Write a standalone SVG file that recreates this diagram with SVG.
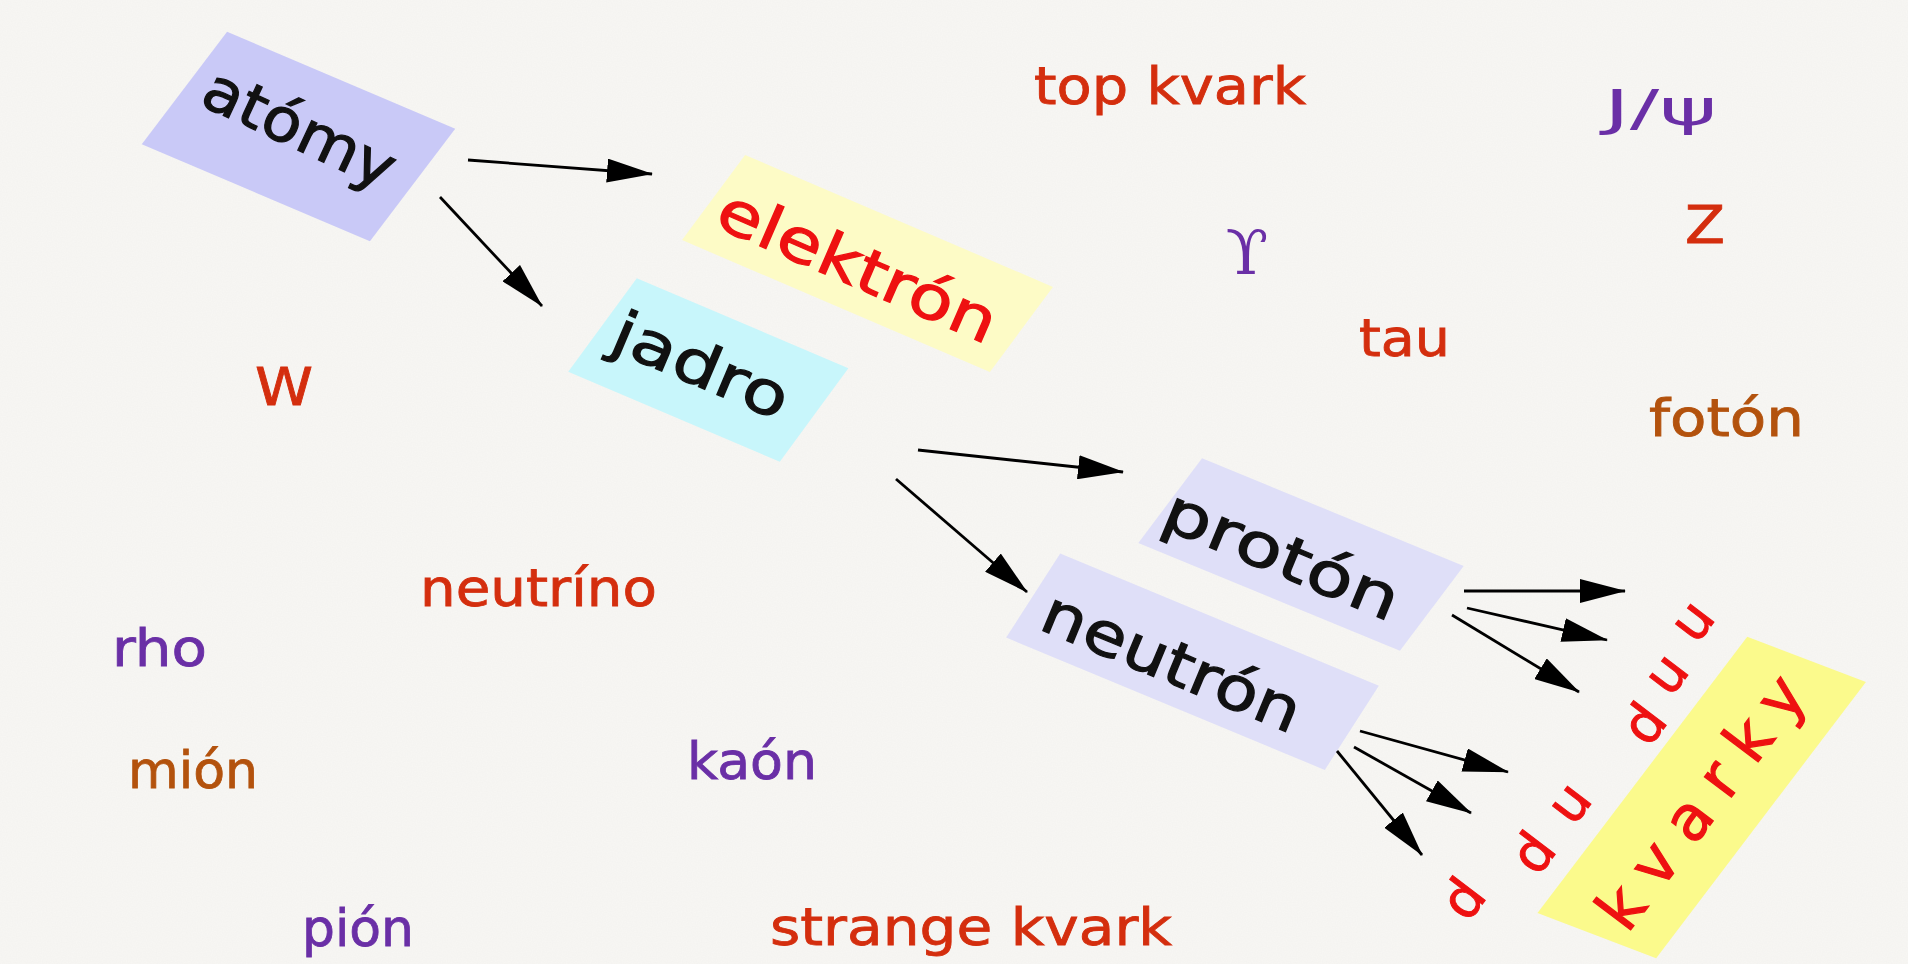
<svg xmlns="http://www.w3.org/2000/svg" width="1908" height="964" viewBox="0 0 1908 964">
<style>
  .lbl { font-family: "DejaVu Sans", "Liberation Sans", sans-serif; stroke-width: 0.8; }
  .box { font-family: "DejaVu Sans", "Liberation Sans", sans-serif; fill: #111; stroke: #111; stroke-width: 1.2; text-anchor: middle; }
  .rtxt { fill: #ee1111; stroke: #ee1111; }
  .red { fill: #d42e0e; stroke: #d42e0e; }
  .pur { fill: #6a2fa6; stroke: #6a2fa6; }
  .brn { fill: #b3520d; stroke: #b3520d; }
  .q { font-family: "DejaVu Sans", "Liberation Sans", sans-serif; fill: #ee1111; stroke: #ee1111; stroke-width: 1; font-size: 54px; text-anchor: middle; }
  .conn line { stroke: #000; stroke-width: 2.8; marker-end: url(#ah); }
</style>
<defs>
  <marker id="ah" markerUnits="userSpaceOnUse" viewBox="0 0 46 24" markerWidth="46" markerHeight="24" refX="45" refY="12" orient="auto">
    <path d="M0,0 L46,12 L0,24 z" fill="#000"/>
  </marker>
  <filter id="grain" x="0" y="0" width="100%" height="100%">
    <feTurbulence type="fractalNoise" baseFrequency="0.8" numOctaves="1" seed="7"/>
    <feColorMatrix values="0 0 0 0 0.45  0 0 0 0 0.45  0 0 0 0 0.45  0 0 0 0.07 0"/>
  </filter>
</defs>
<rect x="0" y="0" width="1908" height="964" fill="#f8f7f4"/>
<rect x="0" y="0" width="1908" height="964" filter="url(#grain)"/>

<g id="atomy">
  <rect x="-124" y="-70.5" width="248" height="141" fill="#c9c9f7" transform="matrix(0.920 0.391 -0.605 0.797 298.5 136.5)"/>
  <text class="box" transform="translate(291,147) rotate(25)" font-size="60" textLength="205" lengthAdjust="spacingAndGlyphs">atómy</text>
</g>
<g id="elektron">
  <rect x="-167.5" y="-53" width="335" height="106" fill="#fdfbc6" transform="matrix(0.919 0.394 -0.595 0.803 867.5 263.5)"/>
  <text class="box rtxt" transform="translate(849.5,285) rotate(23.5)" font-size="60" textLength="299" lengthAdjust="spacingAndGlyphs">elektrón</text>
</g>
<g id="jadro">
  <rect x="-115" y="-58" width="230" height="116" fill="#c8f6fb" transform="matrix(0.920 0.391 -0.591 0.807 708.3 370)"/>
  <text class="box" transform="translate(693,384.5) rotate(23)" font-size="60" textLength="186" lengthAdjust="spacingAndGlyphs">jadro</text>
</g>
<g id="proton">
  <rect x="-141.5" y="-53" width="283" height="106" fill="#dfdff8" transform="matrix(0.9245 0.381 -0.6015 0.799 1301 554.5)"/>
  <text class="box" transform="translate(1274,574) rotate(22.5)" font-size="60" textLength="250" lengthAdjust="spacingAndGlyphs">protón</text>
</g>
<g id="neutron">
  <rect x="-172.5" y="-50" width="345" height="100" fill="#dfdff8" transform="matrix(0.9236 0.3836 -0.5405 0.8409 1192.5 661.7)"/>
  <text class="box" transform="translate(1164,681) rotate(22.6)" font-size="60" textLength="275" lengthAdjust="spacingAndGlyphs">neutrón</text>
</g>
<g id="kvarky">
  <rect x="-173.5" y="-63.5" width="347" height="127" fill="#fbfa8c" transform="matrix(0.6045 -0.7965 0.9345 0.3555 1701.7 797.5)"/>
  <text class="box rtxt" transform="translate(1718,815) rotate(-52.8)" font-size="62" textLength="300" lengthAdjust="spacing">kvarky</text>
</g>

<g id="quarks-proton">
  <text class="q" transform="translate(1643,723) rotate(-52.8)" y="20">d</text>
  <text class="q" transform="translate(1669,676) rotate(-52.8)" y="14.5">u</text>
  <text class="q" transform="translate(1695,623) rotate(-52.8)" y="14.5">u</text>
</g>
<g id="quarks-neutron">
  <text class="q" transform="translate(1462,898) rotate(-52.8)" y="20">d</text>
  <text class="q" transform="translate(1532,852) rotate(-52.8)" y="20">d</text>
  <text class="q" transform="translate(1572,805) rotate(-52.8)" y="14.5">u</text>
</g>

<g id="connectors" class="conn">
  <line x1="468" y1="160" x2="652" y2="174"/>
  <line x1="440" y1="197" x2="542" y2="306"/>
  <line x1="918" y1="450" x2="1123" y2="472"/>
  <line x1="896" y1="479" x2="1027" y2="592"/>
  <line x1="1464" y1="591" x2="1625" y2="591"/>
  <line x1="1467" y1="608" x2="1607" y2="640"/>
  <line x1="1452" y1="615" x2="1579" y2="692"/>
  <line x1="1360" y1="731" x2="1508" y2="772"/>
  <line x1="1354" y1="747" x2="1471" y2="813"/>
  <line x1="1337" y1="751" x2="1422" y2="855"/>
</g>

<g id="free-labels" font-size="51">
  <text id="t-top" class="lbl red" x="1034" y="104" textLength="272" lengthAdjust="spacingAndGlyphs">top kvark</text>
  <text id="t-jpsi" class="lbl pur" x="1604" y="125" font-size="50" textLength="113" lengthAdjust="spacingAndGlyphs" style="stroke-width:0">J/ψ</text>
  <text id="t-z" class="lbl red" x="1685" y="243" textLength="40" lengthAdjust="spacingAndGlyphs">Z</text>
  <text id="t-ups" class="pur" x="1247" y="274" font-size="62" text-anchor="middle" font-family="'DejaVu Serif', 'Liberation Serif', serif" style="stroke-width:0">ϒ</text>
  <text id="t-tau" class="lbl red" x="1359" y="356" textLength="91" lengthAdjust="spacingAndGlyphs">tau</text>
  <text id="t-foton" class="lbl brn" x="1649" y="436" textLength="155" lengthAdjust="spacingAndGlyphs">fotón</text>
  <text id="t-w" class="lbl red" x="255" y="405" textLength="58" lengthAdjust="spacingAndGlyphs">W</text>
  <text id="t-neutrino" class="lbl red" x="420" y="606" textLength="237" lengthAdjust="spacingAndGlyphs">neutríno</text>
  <text id="t-rho" class="lbl pur" x="112" y="666" textLength="95" lengthAdjust="spacingAndGlyphs">rho</text>
  <text id="t-mion" class="lbl brn" x="128" y="788" textLength="130" lengthAdjust="spacingAndGlyphs">mión</text>
  <text id="t-kaon" class="lbl pur" x="687" y="779" textLength="130" lengthAdjust="spacingAndGlyphs">kaón</text>
  <text id="t-pion" class="lbl pur" x="302" y="946" textLength="112" lengthAdjust="spacingAndGlyphs">pión</text>
  <text id="t-strange" class="lbl red" x="770" y="945" textLength="402" lengthAdjust="spacingAndGlyphs">strange kvark</text>
</g>
</svg>
